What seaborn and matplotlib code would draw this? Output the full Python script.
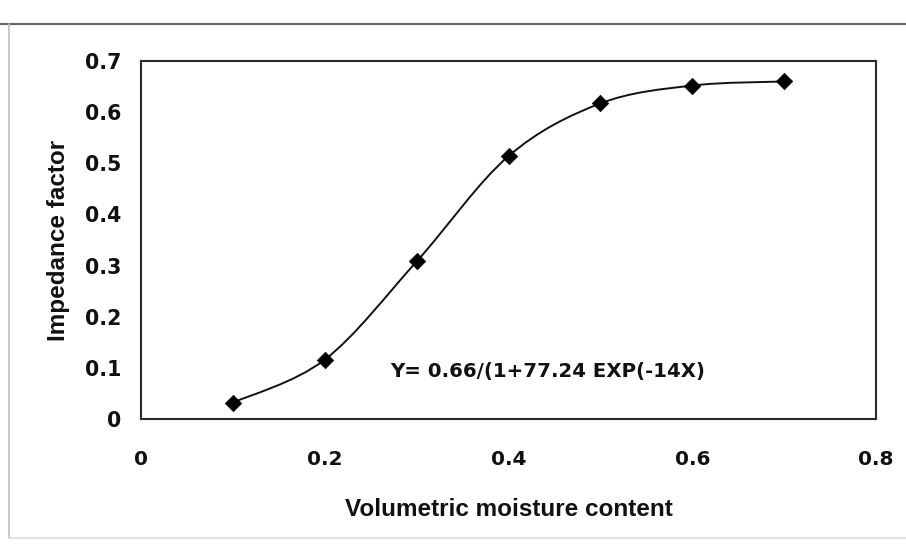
import numpy as np
import pandas as pd
import seaborn as sns
import matplotlib
matplotlib.use("Agg")
import matplotlib.pyplot as plt
from matplotlib.path import Path
from matplotlib.patches import PathPatch
from matplotlib.lines import Line2D

# ---- data ----
moisture = [0.1, 0.2, 0.3, 0.4, 0.5, 0.6, 0.7]
impedance = [0.032, 0.116, 0.308, 0.514, 0.617, 0.652, 0.660]
x_ticks = [0, 0.2, 0.4, 0.6, 0.8]
x_tick_labels = ["0", "0.2", "0.4", "0.6", "0.8"]
y_ticks = [0, 0.1, 0.2, 0.3, 0.4, 0.5, 0.6, 0.7]
y_tick_labels = ["0", "0.1", "0.2", "0.3", "0.4", "0.5", "0.6", "0.7"]
x_label = "Volumetric moisture content"
y_label = "Impedance factor"
equation = "Y= 0.66/(1+77.24 EXP(-14X)"

df = pd.DataFrame({"moisture": moisture, "impedance": impedance})

sns.set_theme(style="white")
plt.rcParams["font.family"] = ["DejaVu Sans"]

fig = plt.figure(figsize=(9.06, 5.52), dpi=100)
ax = fig.add_axes([141 / 906, 1 - 419 / 552, (876 - 141) / 906, (419 - 61) / 552])

# smooth (Excel-style) curve through the data points
xs = np.array(moisture, dtype=float)
ys = np.array(impedance, dtype=float)
verts = [(xs[0], ys[0])]
codes = [Path.MOVETO]
n = len(xs)
for i in range(n - 1):
    p0 = (xs[i - 1], ys[i - 1]) if i > 0 else (xs[i], ys[i])
    p1 = (xs[i], ys[i])
    p2 = (xs[i + 1], ys[i + 1])
    p3 = (xs[i + 2], ys[i + 2]) if i + 2 < n else p2
    c1 = (p1[0] + (p2[0] - p0[0]) / 6, p1[1] + (p2[1] - p0[1]) / 6)
    c2 = (p2[0] - (p3[0] - p1[0]) / 6, p2[1] - (p3[1] - p1[1]) / 6)
    verts += [c1, c2, p2]
    codes += [Path.CURVE4] * 3
ax.add_patch(PathPatch(Path(verts, codes), facecolor="none", edgecolor="#111111",
                       lw=1.4, zorder=3))

sns.scatterplot(data=df, x="moisture", y="impedance", marker="D", s=70,
                color="black", edgecolor="black", linewidth=0.5, ax=ax, zorder=4)

ax.set_xlim(0, 0.8)
ax.set_ylim(0, 0.7)
ax.set_xticks(x_ticks)
ax.set_xticklabels(x_tick_labels)
ax.set_yticks(y_ticks)
ax.set_yticklabels(y_tick_labels)

for s in ax.spines.values():
    s.set_visible(True)
    s.set_color("#2a2a2a")
    s.set_linewidth(1.5)

ax.tick_params(axis="y", direction="out", length=4, width=1, color="#777777",
               pad=10, labelsize=14.8)
ax.tick_params(axis="x", direction="out", length=5, width=1, color="#999999",
               pad=17, labelsize=14.5)
for lab in ax.get_xticklabels() + ax.get_yticklabels():
    lab.set_fontweight("bold")
    lab.set_color("#111111")

ax.set_xlabel(x_label, fontsize=17.5, fontweight="bold", family="Liberation Sans",
              labelpad=21, color="#111111")
ax.set_ylabel(y_label, fontsize=17.5, fontweight="bold", family="Liberation Sans",
              labelpad=11, color="#111111")

ax.text(0.271, 0.092, equation, fontsize=14.2, fontweight="bold", color="#111111",
        ha="left", va="center", transform=ax.transData, zorder=5)
ax.grid(False)

# outer chart frame (scanned Excel chart border)
fig.add_artist(Line2D([0, 1], [1 - 24 / 552] * 2, transform=fig.transFigure,
                      color="#666666", lw=1.6))
fig.add_artist(Line2D([9 / 906] * 2, [1 - 24 / 552, 1 - 538 / 552],
                      transform=fig.transFigure, color="#bbbbbb", lw=1.2))
fig.add_artist(Line2D([9 / 906, 1], [1 - 538 / 552] * 2, transform=fig.transFigure,
                      color="#dddddd", lw=1.2))

fig.savefig("out.png", dpi=100)
